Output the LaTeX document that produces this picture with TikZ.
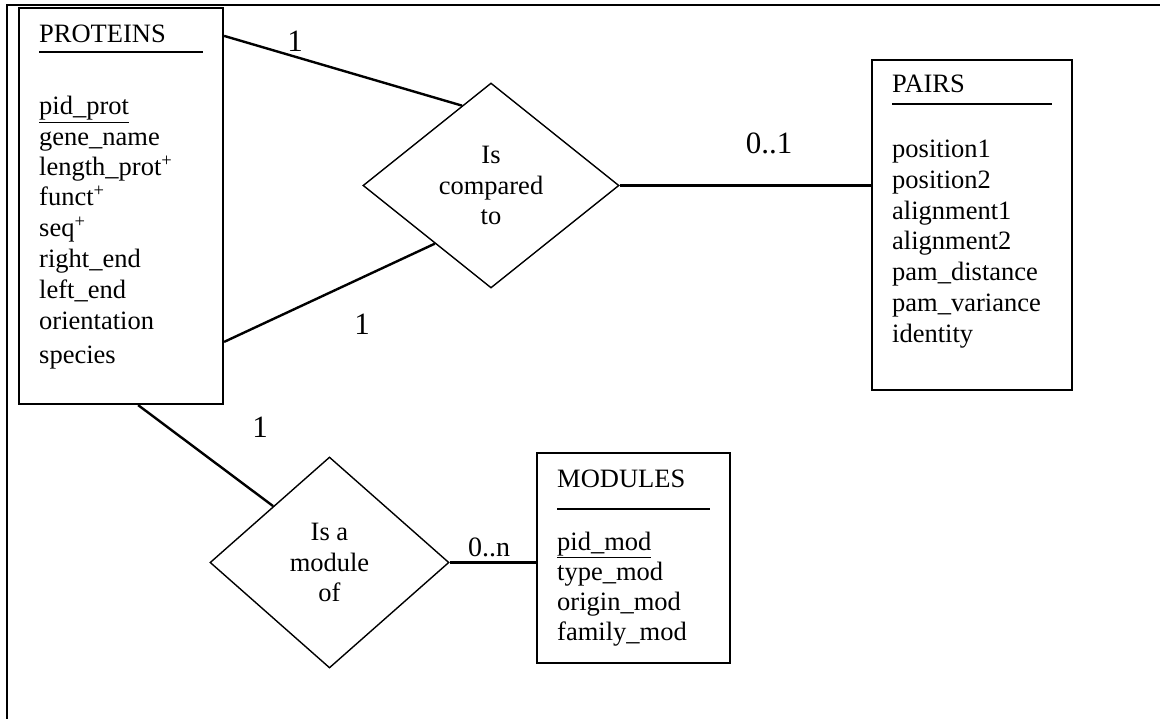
\documentclass[tikz,border=0pt]{standalone}
\usepackage{fontspec}
\setmainfont{Liberation Serif}
\usetikzlibrary{shapes.geometric,calc}
\begin{document}
\begin{tikzpicture}[x=1pt,y=-1pt,
  entity/.style={draw,line width=2.2pt,rectangle,inner sep=0pt},
  rel/.style={draw,diamond,line width=1.4pt,inner sep=0pt,align=center,font=\fontsize{26.5}{30.5}\selectfont},
  attr/.style={anchor=base west,inner sep=0pt,font=\fontsize{26.5}{30}\selectfont},
  card/.style={anchor=base,inner sep=0pt,font=\fontsize{31}{31}\selectfont},
  conn/.style={line width=2.4pt},
  titlerule/.style={line width=2.2pt},
  frame/.style={line width=2.2pt}]
\useasboundingbox (0,0) rectangle (1160,719);
\draw[frame] (7,719) -- (7,5) -- (1160,5);

% entities
\node[entity,minimum width=204pt,minimum height=396pt] (proteins) at (121,206) {};
\node[entity,minimum width=200pt,minimum height=330pt] (pairs) at (972,225) {};
\node[entity,line width=2.8pt,minimum width=193pt,minimum height=210pt] (modules) at (633.5,558) {};

% relationships
\node[rel,minimum width=256pt,minimum height=205pt] (rel1) at (491,185.5) {Is\\compared\\to};
\node[rel,minimum width=239pt,minimum height=211pt] (rel2) at (329.5,562.5) {Is a\\module\\of};

% titles
\node[attr] (tprot) at (39,43) {PROTEINS};
\draw[titlerule] (39,52) -- (203,52);
\node[attr] (tpairs) at (892,93) {PAIRS};
\draw[titlerule] (892,104) -- (1052,104);
\node[attr] (tmod) at (557,487) {MODULES};
\draw[titlerule] (557,509) -- (710,509);

% attributes
\foreach \t/\yy [count=\i] in {{\underline{pid\_prot}}/115, {gene\_name}/146, {length\_prot\textsuperscript{+}}/176, {funct\textsuperscript{+}}/206, {seq\textsuperscript{+}}/237, {right\_end}/268, {left\_end}/299, {orientation}/330, {species}/364}
  \node[attr] (pa\i) at (39,\yy) {\t};
\foreach \t/\yy [count=\i] in {{position1}/158, {position2}/189, {alignment1}/220, {alignment2}/250, {pam\_distance}/281, {pam\_variance}/312, {identity}/343}
  \node[attr] (pb\i) at (892,\yy) {\t};
\foreach \t/\yy [count=\i] in {{\underline{pid\_mod}}/550, {type\_mod}/580, {origin\_mod}/610, {family\_mod}/640}
  \node[attr] (pc\i) at (557,\yy) {\t};

% connectors
\draw[conn] ($(proteins.north east)+(0,29)$) -- (rel1.110);
\draw[conn] ($(proteins.north east)+(0,335)$) -- (rel1.226);
\draw[conn] (rel1.east) -- (rel1.east -| pairs.west);
\draw[conn] ($(proteins.south west)!0.583!(proteins.south east)$) -- (rel2.135);
\draw[conn] (rel2.east) -- (rel2.east -| modules.west);

% cardinalities
\node[card] (c1) at (295,52) {1};
\node[card] (c2) at (362,335) {1};
\node[card] (c3) at (260,437) {1};
\node[card] (c4) at (769,154) {0..1};
\node[card,font=\fontsize{28}{28}\selectfont] (c5) at (489,556) {0..n};
\end{tikzpicture}
\end{document}
